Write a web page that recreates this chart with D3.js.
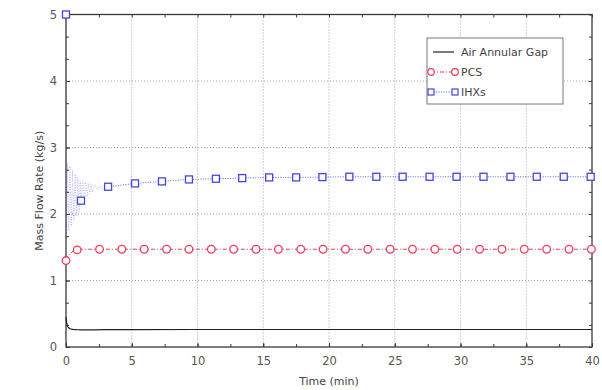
<!DOCTYPE html>
<html>
<head>
<meta charset="utf-8">
<script src="https://cdn.jsdelivr.net/npm/d3@7"></script>
<style>
  html, body { margin: 0; padding: 0; background: #fff; }
  svg { display: block; }
  text { font-family: "DejaVu Sans", sans-serif; }
</style>
</head>
<body>
<svg id="chart" width="602" height="390"></svg>
<script>
// ---- data ----
const xTicks = [0, 5, 10, 15, 20, 25, 30, 35, 40];
const yTicks = [0, 1, 2, 3, 4, 5];
const seriesNames = ["Air Annular Gap", "PCS", "IHXs"];

const airTime  = [0, 0.05, 0.1, 0.2, 0.3, 0.5, 0.8, 1.2, 2, 3, 5, 10, 20, 30, 40];
const airValue = [0.45, 0.37, 0.32, 0.29, 0.275, 0.265, 0.26, 0.258, 0.258, 0.26, 0.262, 0.263, 0.263, 0.263, 0.263];

const pcsLineTime  = [0, 0.1, 0.2, 0.4, 0.6, 0.85, 1.2, 1.7, 2.55, 40];
const pcsLineValue = [1.30, 1.33, 1.37, 1.42, 1.45, 1.46, 1.47, 1.47, 1.47, 1.47];
const pcsMarkTime  = [0, 0.85, 2.55, 4.25, 5.95, 7.65, 9.35, 11.05, 12.75, 14.45, 16.15, 17.85, 19.55,
                      21.25, 22.95, 24.65, 26.35, 28.05, 29.75, 31.45, 33.15, 34.85, 36.55, 38.25, 39.95];
const pcsMarkValue = [1.30, 1.46, 1.47, 1.47, 1.47, 1.47, 1.47, 1.47, 1.47, 1.47, 1.47, 1.47, 1.47,
                      1.47, 1.47, 1.47, 1.47, 1.47, 1.47, 1.47, 1.47, 1.47, 1.47, 1.47, 1.47];

const ihxLineTime  = [0, 0.03, 0.1, 0.2, 0.3, 0.4, 0.5, 0.6, 0.7, 0.8, 0.9, 1.0, 1.08, 1.14, 1.3, 1.4, 1.5,
                      1.6, 1.7, 1.8, 1.9, 2.0, 2.2, 2.4, 2.6, 2.8, 3.2];
const ihxLineValue = [5.0, 1.72, 2.78, 1.75, 2.72, 1.82, 2.66, 1.9, 2.6, 1.98, 2.55, 2.04, 2.5, 2.2, 2.5, 2.22, 2.48,
                      2.26, 2.46, 2.3, 2.45, 2.33, 2.44, 2.36, 2.42, 2.38, 2.41];
const ihxMarkTime  = [0, 1.14, 3.2, 5.25, 7.3, 9.35, 11.4, 13.4, 15.45, 17.5, 19.5, 21.55, 23.6, 25.6,
                      27.65, 29.7, 31.75, 33.8, 35.8, 37.85, 39.9];
const ihxMarkValue = [5.0, 2.2, 2.41, 2.46, 2.49, 2.52, 2.53, 2.54, 2.55, 2.55, 2.555, 2.56, 2.56, 2.56,
                      2.56, 2.56, 2.56, 2.56, 2.56, 2.56, 2.56];

// ---- layout ----
const W = 602, H = 390;
const margin = { left: 66, top: 14.5, right: 10, bottom: 43 };
const iw = W - margin.left - margin.right;
const ih = H - margin.top - margin.bottom;

const svg = d3.select("#chart");
const g = svg.append("g").attr("transform", `translate(${margin.left},${margin.top})`);

const x = d3.scaleLinear().domain([0, 40]).range([0, iw]);
const y = d3.scaleLinear().domain([0, 5]).range([ih, 0]);

const red = "#ee3a5c", blue = "#4444e6", frame = "#3a3a3a", labelCol = "#555";

// grid
g.append("g").selectAll("line").data(xTicks.slice(1, -1)).join("line")
  .attr("x1", d => x(d)).attr("x2", d => x(d)).attr("y1", 0).attr("y2", ih)
  .attr("stroke", "#a0a0a0").attr("stroke-width", 1).attr("stroke-dasharray", "1,2");
g.append("g").selectAll("line").data(yTicks.slice(1, -1)).join("line")
  .attr("y1", d => y(d)).attr("y2", d => y(d)).attr("x1", 0).attr("x2", iw)
  .attr("stroke", "#a0a0a0").attr("stroke-width", 1).attr("stroke-dasharray", "1,2");

// axes (ticks inward)
const xMinor = d3.range(0, 40.01, 2.5);
const yMinor = d3.range(0, 5.001, 1 / 3);
const xAxisB = d3.axisBottom(x).tickValues(xTicks).tickSize(-4).tickPadding(10).tickFormat(d3.format("d"));
const yAxisL = d3.axisLeft(y).tickValues(yTicks).tickSize(-4).tickPadding(9).tickFormat(d3.format("d"));

function styleAxis(sel) {
  sel.select(".domain").remove();
  sel.selectAll("line").attr("stroke", frame);
  sel.selectAll("text").attr("fill", labelCol).style("font-size", "11.5px");
}
g.append("g").attr("transform", `translate(0,${ih})`).call(xAxisB).call(styleAxis);
g.append("g").call(yAxisL).call(styleAxis);
g.append("g").attr("transform", `translate(0,${ih})`)
  .call(d3.axisBottom(x).tickValues(xMinor).tickSize(-3).tickFormat("")).call(styleAxis);
g.append("g").call(d3.axisTop(x).tickValues(xMinor).tickSize(-3).tickFormat("")).call(styleAxis);
g.append("g").call(d3.axisLeft(y).tickValues(yMinor).tickSize(-3).tickFormat("")).call(styleAxis);
g.append("g").attr("transform", `translate(${iw},0)`)
  .call(d3.axisRight(y).tickValues(yMinor).tickSize(-3).tickFormat("")).call(styleAxis);

// frame
g.append("rect").attr("x", 0).attr("y", 0).attr("width", iw).attr("height", ih)
  .attr("fill", "none").attr("stroke", frame).attr("stroke-width", 1.3);

// series
const line = d3.line().x(d => x(d[0])).y(d => y(d[1]));
const zip = (a, b) => a.map((v, i) => [v, b[i]]);

g.append("path").datum(zip(ihxLineTime, ihxLineValue))
  .attr("d", line).attr("fill", "none").attr("stroke", blue).attr("stroke-width", 0.8)
  .attr("stroke-dasharray", "1,1.5").attr("opacity", 0.45);
g.append("path").datum(zip(ihxMarkTime.slice(2), ihxMarkValue.slice(2)))
  .attr("d", line).attr("fill", "none").attr("stroke", blue).attr("stroke-width", 1)
  .attr("stroke-dasharray", "1,1.5").attr("opacity", 0.85);

g.append("path").datum(zip(pcsLineTime, pcsLineValue))
  .attr("d", line).attr("fill", "none").attr("stroke", red).attr("stroke-width", 1)
  .attr("stroke-dasharray", "4,2,1,2");

g.append("path").datum(zip(airTime, airValue))
  .attr("d", line).attr("fill", "none").attr("stroke", "#222").attr("stroke-width", 1.2);

g.append("g").selectAll("circle").data(zip(pcsMarkTime, pcsMarkValue)).join("circle")
  .attr("cx", d => x(d[0])).attr("cy", d => y(d[1])).attr("r", 3.8)
  .attr("fill", "#fff").attr("stroke", red).attr("stroke-width", 1.3);

g.append("g").selectAll("rect").data(zip(ihxMarkTime, ihxMarkValue)).join("rect")
  .attr("x", d => x(d[0]) - 3.5).attr("y", d => y(d[1]) - 3.5).attr("width", 7).attr("height", 7)
  .attr("fill", "#fff").attr("stroke", blue).attr("stroke-width", 1.3);

// axis titles
svg.append("text").attr("x", margin.left + iw / 2).attr("y", 385).attr("text-anchor", "middle")
  .attr("fill", "#444").style("font-size", "11px").text("Time (min)");
svg.append("text").attr("transform", `translate(43,${margin.top + ih / 2 + 10}) rotate(-90)`)
  .attr("text-anchor", "middle").attr("fill", "#444").style("font-size", "11px").text("Mass Flow Rate (kg/s)");

// legend
const lg = svg.append("g").attr("transform", "translate(427,38)");
lg.append("rect").attr("width", 136).attr("height", 66).attr("fill", "#fff")
  .attr("stroke", "#777").attr("stroke-width", 1);
const rowsY = [14, 34, 54];
lg.append("line").attr("x1", 6).attr("x2", 27).attr("y1", rowsY[0]).attr("y2", rowsY[0])
  .attr("stroke", "#222").attr("stroke-width", 1.2);
lg.append("line").attr("x1", 4).attr("x2", 28).attr("y1", rowsY[1]).attr("y2", rowsY[1])
  .attr("stroke", red).attr("stroke-dasharray", "4,2,1,2");
[4, 28].forEach(cx => lg.append("circle").attr("cx", cx).attr("cy", rowsY[1]).attr("r", 3.3)
  .attr("fill", "#fff").attr("stroke", red).attr("stroke-width", 1.2));
lg.append("line").attr("x1", 4).attr("x2", 28).attr("y1", rowsY[2]).attr("y2", rowsY[2])
  .attr("stroke", blue).attr("stroke-dasharray", "1,1.5");
[4, 28].forEach(cx => lg.append("rect").attr("x", cx - 3).attr("y", rowsY[2] - 3).attr("width", 6).attr("height", 6)
  .attr("fill", "#fff").attr("stroke", blue).attr("stroke-width", 1.2));
seriesNames.forEach((n, i) => lg.append("text").attr("x", 34).attr("y", rowsY[i] + 4)
  .attr("fill", "#444").style("font-size", "11px").text(n));
</script>
</body>
</html>
